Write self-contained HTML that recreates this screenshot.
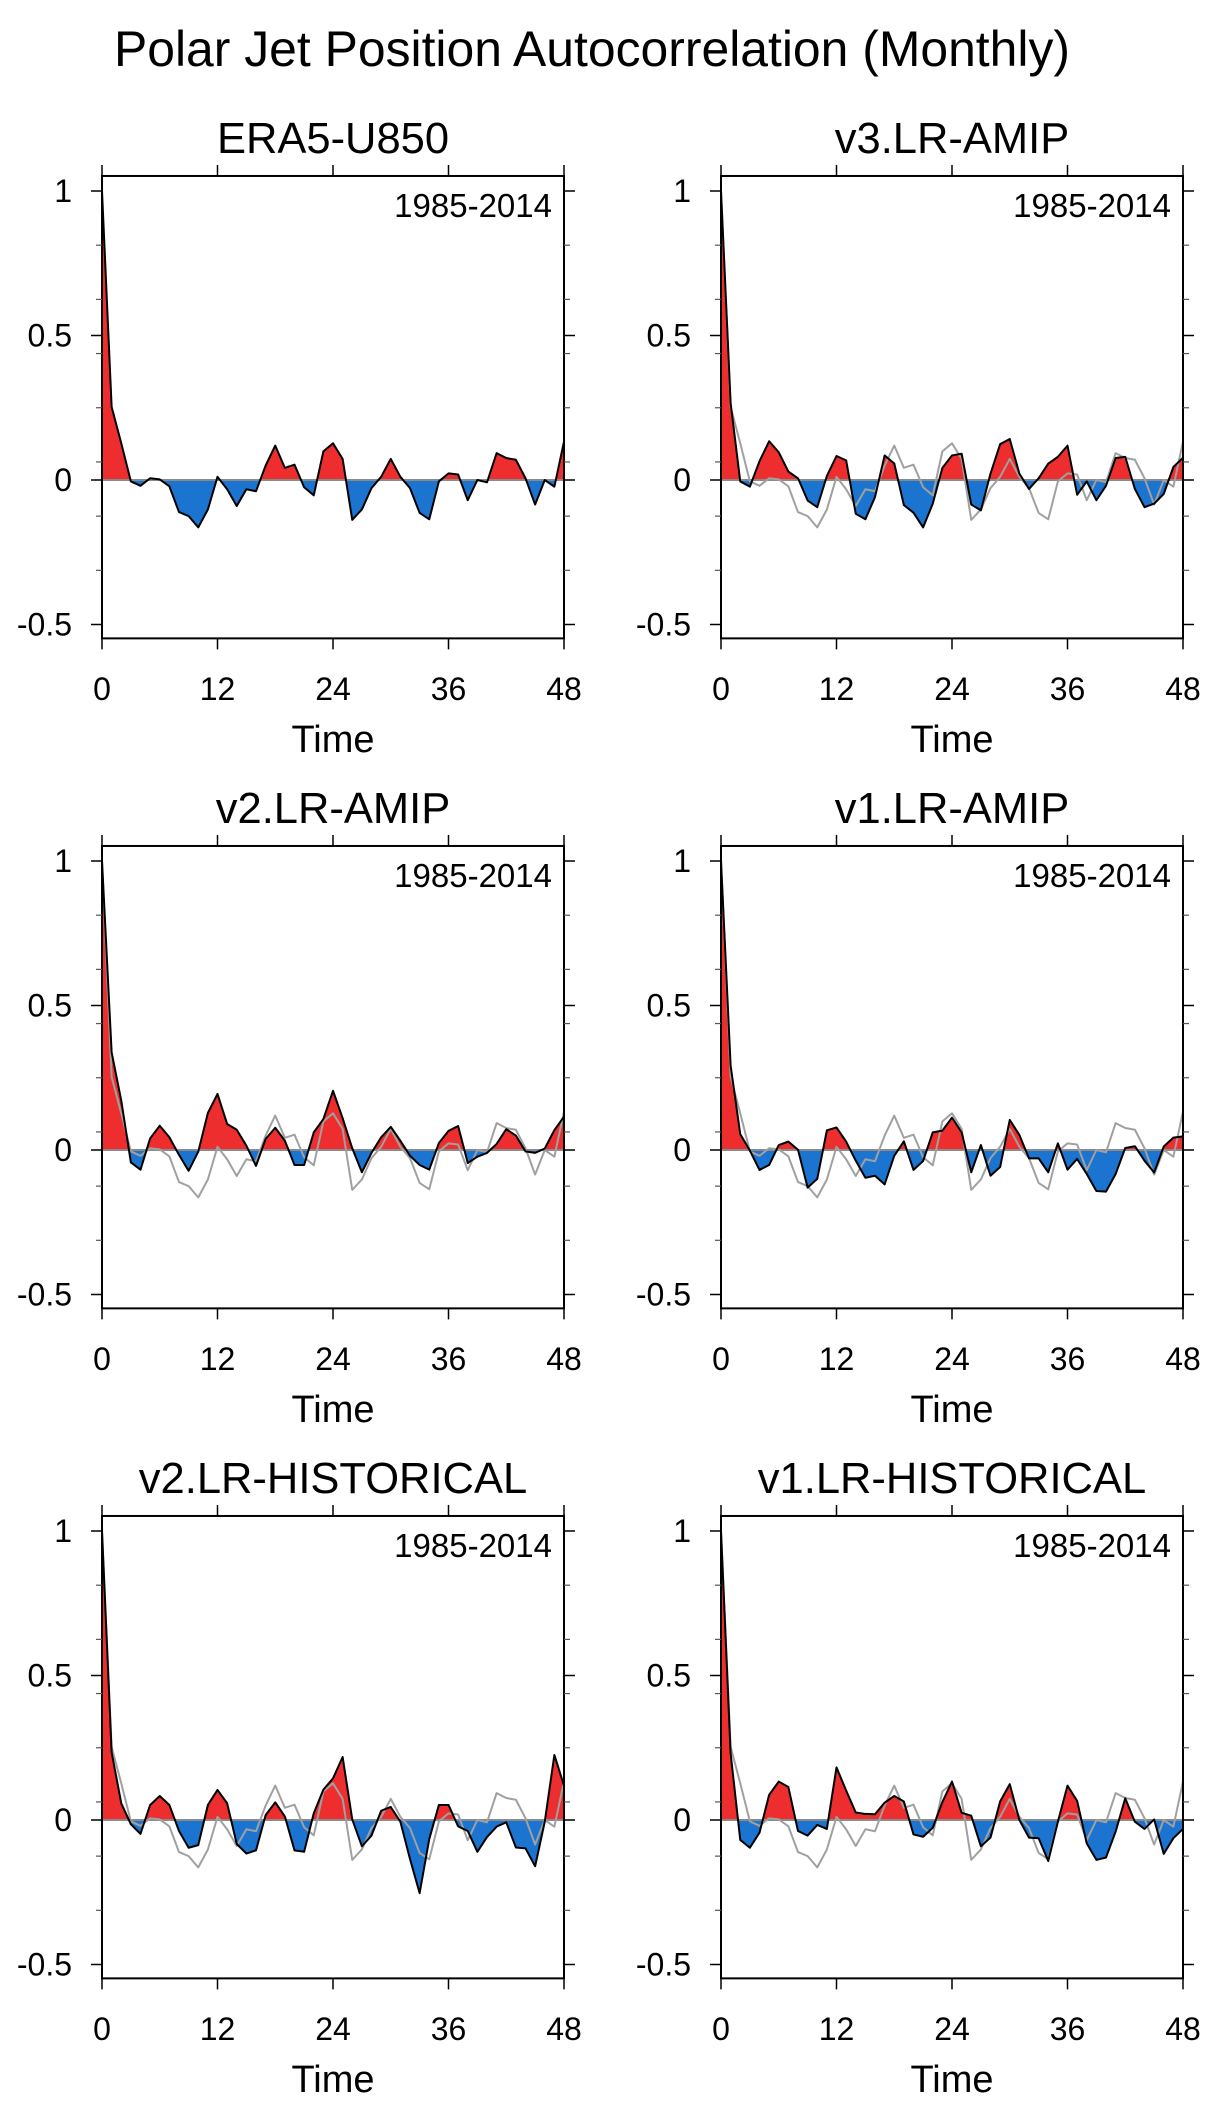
<!DOCTYPE html>
<html><head><meta charset="utf-8"><style>
html,body{margin:0;padding:0;background:#fff;}
svg{display:block;font-family:"Liberation Sans",sans-serif;}
</style></head><body>
<svg id="fig" xmlns="http://www.w3.org/2000/svg" width="1215" height="2125" viewBox="0 0 1215 2125">
<rect width="1215" height="2125" fill="#fff"/>
<text x="114" y="66" font-size="50" textLength="956" lengthAdjust="spacingAndGlyphs">Polar Jet Position Autocorrelation (Monthly)</text>
</svg>
<script>
const lags = Array.from({length:49},(_,i)=>i);
const panelTitles = ["ERA5-U850","v3.LR-AMIP","v2.LR-AMIP","v1.LR-AMIP","v2.LR-HISTORICAL","v1.LR-HISTORICAL"];
const periodLabel = "1985-2014";
const xTicks = [0,12,24,36,48];
const yTicks = [1,0.5,0,-0.5];
const yTickLabels = ["1","0.5","0","-0.5"];
const yMinorTicks = [0.8125,0.625,0.4375,0.25,0.0625,-0.125,-0.3125];
const era5 = [1,0.253,0.127,-0.005,-0.02,0.006,0.002,-0.022,-0.111,-0.125,-0.164,-0.102,0.011,-0.032,-0.09,-0.032,-0.039,0.05,0.119,0.042,0.053,-0.025,-0.053,0.099,0.127,0.073,-0.138,-0.102,-0.028,0.011,0.073,0.011,-0.028,-0.114,-0.136,-0.005,0.023,0.019,-0.07,0,-0.008,0.093,0.076,0.07,0.006,-0.085,0,-0.023,0.133];
const v3amip = [1,0.266,-0.005,-0.023,0.065,0.134,0.096,0.029,0.006,-0.071,-0.094,0.014,0.083,0.068,-0.117,-0.136,-0.059,0.085,0.057,-0.087,-0.113,-0.164,-0.082,0.042,0.085,0.091,-0.085,-0.105,0.022,0.124,0.142,0.022,-0.031,0.006,0.057,0.08,0.119,-0.051,-0.005,-0.07,-0.02,0.076,0.08,-0.031,-0.094,-0.082,-0.048,0.045,0.077];
const v2amip = [1,0.338,0.171,-0.043,-0.068,0.04,0.084,0.044,-0.017,-0.072,-0.006,0.128,0.194,0.09,0.07,0.015,-0.055,0.038,0.077,0.032,-0.052,-0.052,0.061,0.107,0.205,0.11,0.006,-0.077,-0.01,0.044,0.08,0.032,-0.02,-0.052,-0.068,0.024,0.066,0.083,-0.045,-0.023,-0.01,0.021,0.072,0.05,-0.005,-0.01,0.005,0.069,0.115];
const v1amip = [1,0.292,0.055,-0.002,-0.069,-0.052,0.017,0.029,0.001,-0.13,-0.1,0.068,0.078,0.029,-0.037,-0.096,-0.089,-0.119,-0.02,0.03,-0.069,-0.038,0.061,0.067,0.112,0.061,-0.077,0.017,-0.089,-0.059,0.104,0.052,-0.029,-0.029,-0.077,0.023,-0.068,-0.031,-0.083,-0.142,-0.144,-0.083,0.007,0.013,-0.037,-0.078,0.012,0.043,0.047];
const v2hist = [1,0.234,0.058,-0.015,-0.048,0.052,0.083,0.052,-0.038,-0.096,-0.087,0.052,0.104,0.058,-0.083,-0.116,-0.105,0.017,0.061,0.012,-0.105,-0.11,0.023,0.105,0.144,0.218,0.002,-0.091,-0.054,0.032,0.045,-0.006,-0.135,-0.253,-0.066,0.052,0.052,-0.022,-0.038,-0.11,-0.059,-0.023,-0.008,-0.095,-0.098,-0.16,-0.006,0.225,0.119];
const v1hist = [1,0.23,-0.069,-0.096,-0.044,0.087,0.133,0.114,-0.038,-0.054,-0.017,-0.031,0.182,0.102,0.026,0.021,0.02,0.06,0.083,0.064,-0.05,-0.058,-0.027,0.062,0.133,0.025,0.015,-0.091,-0.061,0.064,0.124,0,-0.061,-0.063,-0.142,-0.006,0.119,0.066,-0.081,-0.138,-0.13,-0.04,0.075,-0.006,-0.031,0.002,-0.117,-0.063,-0.031];
const series = [era5,v3amip,v2amip,v1amip,v2hist,v1hist];
const showRef = [false,true,true,true,true,true];

const svg = document.getElementById('fig');
const NS = 'http://www.w3.org/2000/svg';
function mk(tag, attrs, parent){
  const e = document.createElementNS(NS, tag);
  for (const k in attrs) e.setAttribute(k, attrs[k]);
  (parent||svg).appendChild(e);
  return e;
}
const YMAX = 1.052, YMIN = -0.548, UNIT = 289, PW = 462;
series.forEach((vals, p) => {
  const col = p % 2, row = Math.floor(p / 2);
  const x0 = col ? 721 : 102;
  const zy = 480 + 670 * row;
  const X = v => x0 + v / 48 * PW;
  const Y = v => zy - v * UNIT;
  const g = mk('g', {});
  
  
  const t = mk('text', {x: x0 + PW/2, y: zy - 327, 'font-size': 43.5, 'text-anchor': 'middle'}, g);
  t.textContent = panelTitles[p];
  
  
  // clip paths
  const cu = mk('clipPath', {id: 'cu' + p}, g);
  mk('rect', {x: x0, y: Y(YMAX), width: PW, height: Y(0) - Y(YMAX)}, cu);
  const cd = mk('clipPath', {id: 'cd' + p}, g);
  mk('rect', {x: x0, y: Y(0), width: PW, height: Y(YMIN) - Y(0)}, cd);
  const pts = lags.map((l, i) => X(l).toFixed(2) + ',' + Y(vals[i]).toFixed(2)).join(' ');
  const poly = X(0) + ',' + Y(0) + ' ' + pts + ' ' + X(48) + ',' + Y(0);
  const pos = mk('polygon', {points: poly, fill: '#ee2e2e', 'clip-path': 'url(#cu' + p + ')'}, g);
  
  
  const neg = mk('polygon', {points: poly, fill: '#1b74cf', 'clip-path': 'url(#cd' + p + ')'}, g);
  
  
  const zl = mk('line', {x1: X(0), x2: X(48), y1: Y(0), y2: Y(0), stroke: '#8a8a8a', 'stroke-width': 2}, g);
  
  
  if (showRef[p]) {
    const rp = lags.map((l, i) => X(l).toFixed(2) + ',' + Y(era5[i]).toFixed(2)).join(' ');
    const rl = mk('polyline', {points: rp, fill: 'none', stroke: '#a0a0a0', 'stroke-width': 2, 'stroke-linejoin': 'round'}, g);
    
    
  }
  const bl = mk('polyline', {points: pts, fill: 'none', stroke: '#000', 'stroke-width': 2, 'stroke-linejoin': 'round'}, g);
  
  
  const fr = mk('rect', {x: X(0), y: Y(YMAX), width: PW, height: Y(YMIN) - Y(YMAX), fill: 'none', stroke: '#000', 'stroke-width': 2}, g);
  
  
  // x ticks
  xTicks.forEach(v => {
    mk('line', {x1: X(v), x2: X(v), y1: Y(YMIN), y2: Y(YMIN) + 11, stroke: '#000', 'stroke-width': 1.5}, g);
    mk('line', {x1: X(v), x2: X(v), y1: Y(YMAX), y2: Y(YMAX) - 11, stroke: '#000', 'stroke-width': 1.5}, g);
    const tl = mk('text', {x: X(v), y: zy + 220, 'font-size': 32, 'text-anchor': 'middle'}, g);
    tl.textContent = String(v);
    
    
  });
  yTicks.forEach((v, i) => {
    mk('line', {x1: X(0) - 11, x2: X(0), y1: Y(v), y2: Y(v), stroke: '#000', 'stroke-width': 1.5}, g);
    mk('line', {x1: X(48), x2: X(48) + 11, y1: Y(v), y2: Y(v), stroke: '#000', 'stroke-width': 1.5}, g);
    const tl = mk('text', {x: X(0) - 30, y: Y(v) + 11, 'font-size': 32, 'text-anchor': 'end'}, g);
    tl.textContent = yTickLabels[i];
    
    
  });
  yMinorTicks.forEach(v => {
    mk('line', {x1: X(0) - 6, x2: X(0), y1: Y(v), y2: Y(v), stroke: '#555', 'stroke-width': 1.2}, g);
    mk('line', {x1: X(48), x2: X(48) + 6, y1: Y(v), y2: Y(v), stroke: '#555', 'stroke-width': 1.2}, g);
  });
  const per = mk('text', {x: X(48) - 12, y: zy - 263, 'font-size': 33, 'text-anchor': 'end'}, g);
  per.textContent = periodLabel;
  
  
  const xt = mk('text', {x: x0 + PW/2, y: zy + 272, 'font-size': 38, 'text-anchor': 'middle'}, g);
  xt.textContent = 'Time';
  
  
});
</script>
</body></html>
